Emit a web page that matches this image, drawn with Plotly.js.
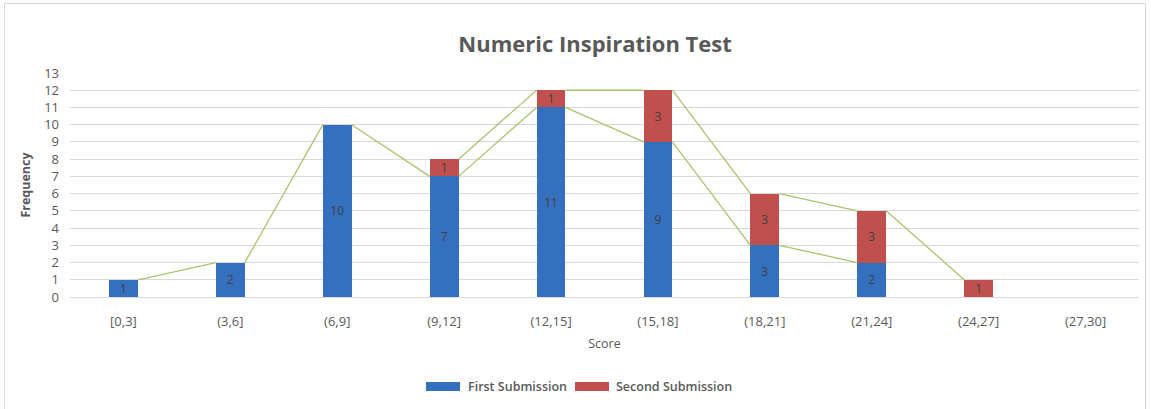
<!DOCTYPE html>
<html>
<head>
<meta charset="utf-8">
<script src="https://cdn.plot.ly/plotly-3.0.1.min.js"></script>
<style>
html,body{margin:0;padding:0;overflow:hidden;background:#fff;}
#frame{position:absolute;left:4px;top:3px;width:1142px;height:420px;border:1px solid #d9d9d9;box-sizing:border-box;pointer-events:none;z-index:5;}
#chart{position:absolute;left:0;top:0;width:1151px;height:409px;}
</style>
</head>
<body>
<div id="chart"></div>
<div id="frame"></div>
<script>
const categories = ["[0,3]","(3,6]","(6,9]","(9,12]","(12,15]","(15,18]","(18,21]","(21,24]","(24,27]","(27,30]"];
const firstSubmission = [1,2,10,7,11,9,3,2,null,null];
const secondSubmission = [null,null,null,1,1,3,3,3,1,null];
const yTicks = [0,1,2,3,4,5,6,7,8,9,10,11,12,13];
const seriesNames = ["First Submission","Second Submission"];
const seriesColors = ["#3470BE","#C0504D"];

const barWidth = 0.27;
const idx = categories.map((c,i)=>i);

// Excel-style series lines connecting tops of stacked segments
function seriesLine(vals){
  const xs=[], ys=[];
  for(let i=0;i<vals.length-1;i++){
    if(vals[i]!=null && vals[i+1]!=null){
      xs.push(i+barWidth/2, i+1-barWidth/2, null);
      ys.push(vals[i], vals[i+1], null);
    }
  }
  return {xs, ys};
}
const cumFirst = firstSubmission.slice();
const cumSecond = secondSubmission.map((v,i)=> v==null?null:(firstSubmission[i]||0)+v);
const l1 = seriesLine(cumFirst);
const l2 = seriesLine(cumSecond);

const txtFont = {family:"Open Sans, sans-serif", size:12, color:"#404040"};

const traces = [
  {type:'bar', name:seriesNames[0], x:idx, y:firstSubmission, width:barWidth,
   marker:{color:seriesColors[0], line:{width:0}},
   text:firstSubmission.map(v=>v==null?'':String(v)), textposition:'inside', insidetextanchor:'middle',
   textangle:0, textfont:txtFont, constraintext:'none', hoverinfo:'y', showlegend:false},
  {type:'bar', name:seriesNames[1], x:idx, y:secondSubmission, width:barWidth,
   marker:{color:seriesColors[1], line:{width:0}},
   text:secondSubmission.map(v=>v==null?'':String(v)), textposition:'inside', insidetextanchor:'middle',
   textangle:0, textfont:txtFont, constraintext:'none', hoverinfo:'y', showlegend:false},
  {type:'scatter', mode:'lines', x:l1.xs, y:l1.ys, line:{color:'#A9C46C', width:1.3}, showlegend:false, hoverinfo:'skip'},
  {type:'scatter', mode:'lines', x:l2.xs, y:l2.ys, line:{color:'#A9C46C', width:1.3}, showlegend:false, hoverinfo:'skip'}
];

// Plot area geometry (pixels) for the custom legend
const W=1151, H=409, ML=70, MR=12, MT=73, MB=112;
const PW=W-ML-MR, PH=H-MT-MB;
const px = x => (x-ML)/PW;
const py = y => (H-MB-y)/PH;

const legendItems = [
  {sx0:426, sx1:460, tx:466},
  {sx0:575, sx1:609, tx:614}
];
const shapes = [], annotations = [];
legendItems.forEach((it,k)=>{
  shapes.push({type:'rect', xref:'paper', yref:'paper', x0:px(it.sx0), x1:px(it.sx1), y0:py(391), y1:py(382),
    fillcolor:seriesColors[k], line:{width:0}});
  annotations.push({xref:'paper', yref:'paper', x:px(it.tx), y:py(386.5), xanchor:'left', yanchor:'middle',
    text:seriesNames[k], showarrow:false, font:{family:"Open Sans, sans-serif", size:12.5, color:'#595959', weight:600}});
});

const grey = '#595959';
const layout = {
  width:W, height:H,
  margin:{l:ML, r:MR, t:MT, b:MB},
  paper_bgcolor:'#fff', plot_bgcolor:'#fff',
  barmode:'stack',
  font:{family:"Open Sans, sans-serif", size:12, color:grey},
  title:{text:'Numeric Inspiration Test', x:0.517, xref:'container', xanchor:'center', y:1-44/409, yref:'container', yanchor:'middle',
         font:{family:"Open Sans, sans-serif", size:22, color:grey, weight:700}},
  xaxis:{range:[-0.5,9.5], tickvals:idx, ticktext:categories, showgrid:false, zeroline:false,
         showline:true, linecolor:'#d9d9d9', linewidth:1, ticks:'', ticklabelstandoff:12,
         tickfont:{size:13, color:grey},
         title:{text:'Score', standoff:10, font:{size:12.5, color:grey}}},
  yaxis:{range:[0,13], tickvals:yTicks, showgrid:true, gridcolor:'#d9d9d9', gridwidth:1, zeroline:false,
         ticks:'', ticklabelstandoff:10, tickfont:{size:13, color:grey},
         title:{text:'Frequency', standoff:10, font:{size:12.5, color:grey, weight:700}}},
  shapes:shapes,
  annotations:annotations,
  showlegend:false
};

Plotly.newPlot('chart', traces, layout, {displayModeBar:false, staticPlot:true});
</script>
</body>
</html>
